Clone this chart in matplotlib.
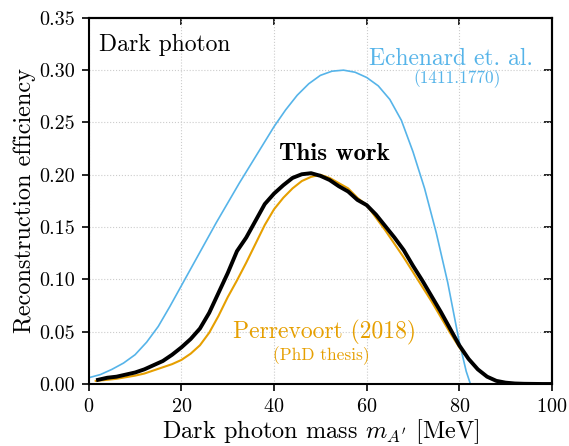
import matplotlib
matplotlib.use('Agg')
import matplotlib.pyplot as plt
import numpy as np

# --- フォント設定 (LaTeX風) ---
plt.rcParams['font.family'] = 'serif'
plt.rcParams['font.serif'] = ['cmr10']
plt.rcParams['mathtext.fontset'] = 'cm'
plt.rcParams['axes.formatter.use_mathtext'] = True

# --- データ ---
# Echenard et. al. (1411.1770)
mass_ech = [0, 2.5, 5, 7.5, 10, 12.5, 15, 17.5, 20, 22.5, 25, 27.5, 30, 32.5, 35, 37.5,
            40, 42.5, 45, 47.5, 50, 52.5, 55, 57.5, 60, 62.5, 65, 67.5, 70, 72.5,
            75, 77.5, 80, 81.5, 82.4, 90, 100]
eff_ech = [0.006, 0.009, 0.014, 0.020, 0.028, 0.040, 0.055, 0.074, 0.094, 0.114, 0.134,
           0.154, 0.173, 0.192, 0.210, 0.228, 0.246, 0.262, 0.276, 0.287, 0.295, 0.299,
           0.300, 0.298, 0.293, 0.285, 0.272, 0.252, 0.222, 0.187, 0.145, 0.097,
           0.040, 0.012, 0.0, 0.0, 0.0]

# This work
mass_this = [2, 4, 6, 8, 10, 12, 14, 16, 18, 20, 22, 24, 26, 28, 30, 32, 34, 36, 38, 40,
             42, 44, 46, 48, 50, 52, 54, 56, 58, 60, 62, 64, 66, 68, 70, 72, 74, 76, 78,
             80, 82, 84, 86, 88, 90, 92, 94, 96, 98, 100]
eff_this = [0.004, 0.006, 0.007, 0.009, 0.011, 0.014, 0.018, 0.022, 0.028, 0.035, 0.043,
            0.053, 0.068, 0.087, 0.106, 0.127, 0.140, 0.156, 0.172, 0.182, 0.190, 0.197,
            0.2005, 0.2015, 0.199, 0.195, 0.189, 0.184, 0.176, 0.171, 0.162, 0.151,
            0.140, 0.128, 0.113, 0.099, 0.084, 0.069, 0.053, 0.037, 0.024, 0.014,
            0.007, 0.003, 0.0013, 0.0005, 0.0002, 0.0001, 0.0, 0.0]

# Perrevoort (2018)
mass_per = [1.5, 4, 6, 8, 10, 12, 14, 16, 18, 20, 22, 24, 26, 28, 30, 32, 34, 36, 38, 40,
            42, 44, 46, 48, 50, 52, 54, 56, 58, 60, 62, 64, 66, 68, 70, 72, 74, 76, 78,
            80, 81]
eff_per = [0.003, 0.004, 0.005, 0.0065, 0.008, 0.010, 0.013, 0.016, 0.019, 0.023, 0.029,
           0.037, 0.049, 0.065, 0.083, 0.099, 0.116, 0.134, 0.152, 0.167, 0.178, 0.187,
           0.194, 0.198, 0.200, 0.197, 0.192, 0.187, 0.178, 0.171, 0.159, 0.147, 0.134,
           0.121, 0.107, 0.093, 0.079, 0.064, 0.049, 0.035, 0.029]

x_ticks = [0, 20, 40, 60, 80, 100]
y_ticks = [0.00, 0.05, 0.10, 0.15, 0.20, 0.25, 0.30, 0.35]

blue = '#56B4E9'
orange = '#E69F00'

fig = plt.figure(figsize=(5.69, 4.46), dpi=100)
ax = fig.add_axes([0.156, 0.139, 0.814, 0.821])

ax.plot(mass_ech, eff_ech, color=blue, linewidth=1.2)
ax.plot(mass_per, eff_per, color=orange, linewidth=1.5)
ax.plot(mass_this, eff_this, color='black', linewidth=2.8)

ax.set_xlim(0, 100)
ax.set_ylim(0, 0.35)
ax.set_xticks(x_ticks)
ax.set_yticks(y_ticks)
ax.yaxis.set_major_formatter(matplotlib.ticker.FormatStrFormatter('%.2f'))

ax.set_xlabel(r"Dark photon mass $m_{A'}$ [MeV]", fontsize=17.5, labelpad=1)
ax.set_ylabel('Reconstruction efficiency', fontsize=17.5, labelpad=2)

# 左・下は外向き、上・右は内向きの目盛り
ax.tick_params(direction='out', length=5, width=1.2, labelsize=14.5, pad=5)
top = ax.secondary_xaxis('top')
top.set_xticks(x_ticks)
top.tick_params(direction='in', length=5, width=1.2, labeltop=False)
right = ax.secondary_yaxis('right')
right.set_yticks(y_ticks)
right.tick_params(direction='in', length=6, width=1.2, labelright=False)
for s in list(ax.spines.values()) + [top.spines['top'], right.spines['right']]:
    s.set_linewidth(1.5)

ax.grid(True, linestyle=':', color='#cccccc', linewidth=0.8)

# --- 注釈 ---
ax.text(2.3, 0.324, 'Dark photon', fontsize=17, ha='left', va='center')
ax.text(78.2, 0.311, 'Echenard et. al.', fontsize=17, color=blue, ha='center', va='center')
ax.text(79.6, 0.292, '(1411.1770)', fontsize=12.5, color=blue, ha='center', va='center')
ax.text(53.1, 0.220, 'This work', fontsize=18, family='cmb10', ha='center', va='center')
ax.text(50.9, 0.049, 'Perrevoort (2018)', fontsize=17, color=orange, ha='center', va='center')
ax.text(50.3, 0.027, '(PhD thesis)', fontsize=12.5, color=orange, ha='center', va='center')

plt.savefig('out.png', dpi=100)
